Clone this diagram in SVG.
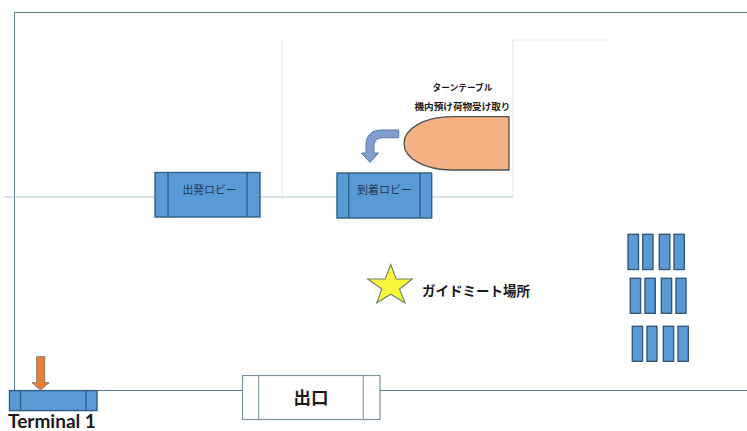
<svg xmlns="http://www.w3.org/2000/svg" width="747" height="431" viewBox="0 0 747 431">
<style>
.wall{fill:none;stroke:#5f7f86;stroke-width:1}
.inner{fill:none;stroke:#a9c9cf;stroke-width:1.2}
.faint{fill:none;stroke:#e4eaea;stroke-width:1.2}
.box{fill:#5b9bd5;stroke:#2e5f85;stroke-width:1.4}
.div{stroke:#2e5f85;stroke-width:1.4;fill:none}
.slot{fill:#5b9bd5;stroke:#34597a;stroke-width:1.4}
text{font-family:"Noto Sans CJK JP","Noto Sans",sans-serif;fill:#1a1a1a;text-anchor:middle;dominant-baseline:central}
.lobby{font-size:10.8px;fill:#1f3550}
.b{font-weight:700}
</style>
<rect width="747" height="431" fill="#ffffff"/>
<g id="connectors">
<path class="wall" d="M14.5 390V12.5H747"/>
<path class="wall" d="M97 390.5H242M380 390.5H747"/>
<path class="inner" d="M4 197H513"/>
<path class="faint" d="M282 40V197M513 197V40H607"/>
</g>
<g id="terminal1">
<rect class="box" x="9.5" y="390.6" width="87.5" height="20"/>
<path class="div" d="M20.5 390.6V410.6M86 390.6V410.6"/>
<path d="M36.7 356.7H44.7V382.7H49L40.5 390L32 382.7H36.7Z" fill="#ed7d31" stroke="#7b7b70" stroke-width="1"/>
<text x="52" y="428" class="b" style="font-family:Lato,'Noto Sans',sans-serif;font-size:19px;dominant-baseline:auto">Terminal 1</text>
</g>
<g id="exit">
<rect x="242.5" y="375.5" width="137.5" height="44" fill="#ffffff" stroke="#7f929c" stroke-width="1.2"/>
<path d="M258.7 375.5V419.5M363.3 375.5V419.5" fill="none" stroke="#8fa2ac" stroke-width="1.2"/>
<text x="311" y="396.5" class="b" style="font-size:17.5px">出口</text>
</g>
<g id="departure-lobby">
<rect class="box" x="155" y="172.5" width="105" height="44.5"/>
<path class="div" d="M168 172.5V217M247 172.5V217"/>
<text class="lobby" x="209.5" y="188.5">出発ロビー</text>
</g>
<g id="arrival-lobby">
<rect class="box" x="337" y="173" width="94.7" height="45"/>
<path class="div" d="M348.7 173V218M420 173V218"/>
<text class="lobby" x="384.5" y="189" style="font-size:11px">到着ロビー</text>
</g>
<g id="turntable">
<path d="M509 116.7H452C424 116.7 404 129 404 143.4C404 158 424 170 452 170H509Z" fill="#f4b183" stroke="#4f4f4f" stroke-width="1.3"/>
<path d="M398.7 130V137.7H383C377 137.7 374 141 374 146V153H378.5L370 162.5L361.5 153H366V145C366 135 372 130 382 130Z" fill="#7f9fd0" stroke="#5a7a9a" stroke-width="1"/>
<text x="462.5" y="87.5" class="b" style="font-size:8.7px">ターンテーブル</text>
<text x="462.5" y="106" class="b" style="font-size:9.6px">機内預け荷物受け取り</text>
</g>
<g id="guide-meeting-point">
<path d="M390.7 264.5L396.2 279H412.3L399.5 289L405 303L390.7 294.2L376.7 303L381.9 289L367.7 279H385.2Z" fill="#f7f73c" stroke="#6f7f6a" stroke-width="1.1"/>
<text x="476" y="290" class="b" style="font-size:13.5px">ガイドミート場所</text>
</g>
<g id="counters">
<rect class="slot" x="628" y="234.3" width="10.5" height="35.2"/>
<rect class="slot" x="642.7" y="234.3" width="10.3" height="35.2"/>
<rect class="slot" x="659.3" y="234.3" width="10.5" height="35.2"/>
<rect class="slot" x="674" y="234.3" width="10.3" height="35.2"/>
<rect class="slot" x="630.3" y="278.3" width="10.3" height="35"/>
<rect class="slot" x="645" y="278.3" width="10.3" height="35"/>
<rect class="slot" x="661.3" y="278.3" width="10.3" height="35"/>
<rect class="slot" x="676" y="278.3" width="10" height="35"/>
<rect class="slot" x="632.3" y="326.3" width="10.3" height="35"/>
<rect class="slot" x="647" y="326.3" width="10" height="35"/>
<rect class="slot" x="663.3" y="326.3" width="10.3" height="35"/>
<rect class="slot" x="678" y="326.3" width="10.3" height="35"/>
</g>
</svg>
